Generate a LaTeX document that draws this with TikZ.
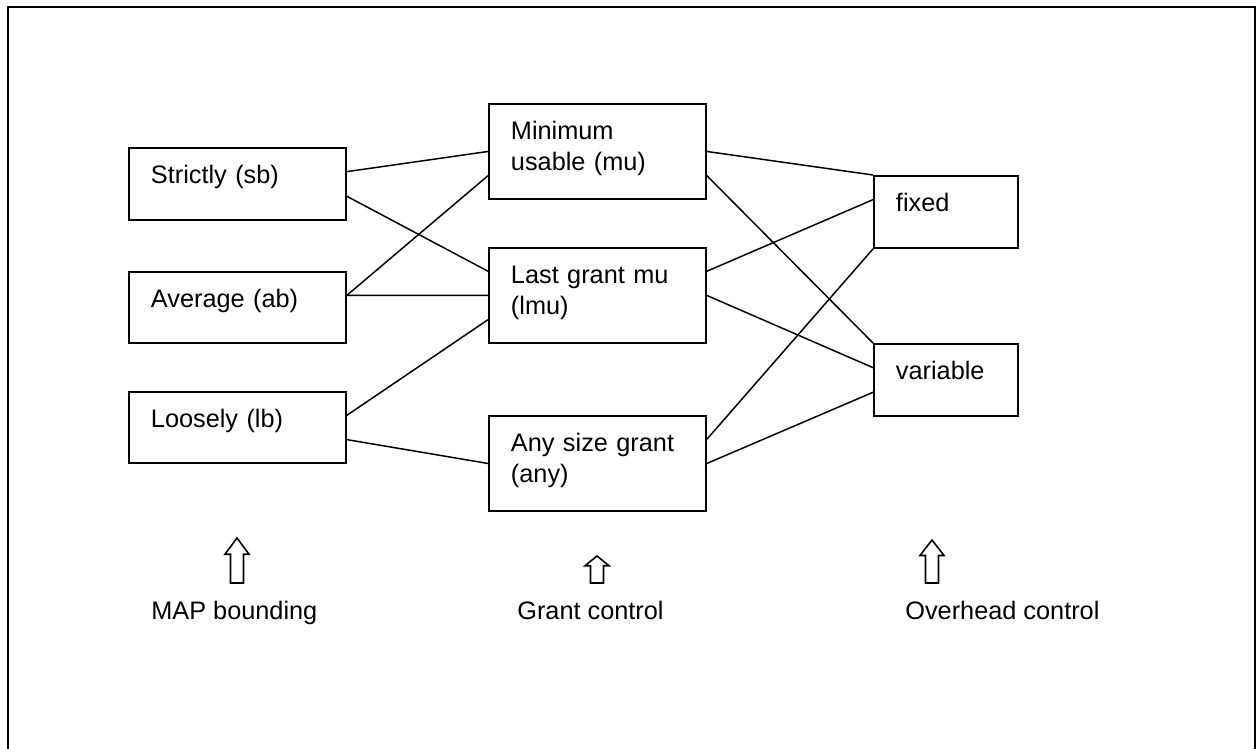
\documentclass[tikz,border=0pt]{standalone}
\usepackage{fontspec}
\setmainfont{Liberation Sans}
\usetikzlibrary{calc}
\tikzset{
  box/.style={draw, line width=1.1pt, anchor=north west, inner xsep=0.44cm, inner ysep=0pt, align=left, text height=0.72cm},
  wide/.style={box, text width=3.46cm},
  narrow/.style={box, text width=2cm},
  link/.style={line width=0.85pt},
  caption/.style={anchor=base west, inner sep=0pt},
  hollow/.pic={\draw[line width=0.9pt] (-6.5,0) -- (-6.5,-0.64*#1) -- (-12,-0.64*#1) -- (0,-#1) -- (12,-0.64*#1) -- (6.5,-0.64*#1) -- (6.5,0) -- cycle;}
}

\begin{document}
\begin{tikzpicture}[x=0.02cm, y=-0.02cm, font=\fontsize{14.4}{17.6}\selectfont]
\useasboundingbox (0,0) rectangle (1256,748);

% Outer frame
\draw[line width=1.2pt] (8,7) rectangle (1255,800);

% MAP bounding
\node[wide, text depth=0.72cm] (sb) at (128,147) {Strictly (sb)};
\node[wide, text depth=0.70cm] (ab) at (128,271) {Average (ab)};
\node[wide, text depth=0.70cm] (lb) at (128,391) {Loosely (lb)};

% Grant control
\node[wide, text depth=1.18cm] (mu) at (488,103) {Minimum\\usable (mu)};
\node[wide, text depth=1.18cm] (lmu) at (488,247) {Last grant mu\\(lmu)};
\node[wide, text depth=1.18cm] (any) at (488,415) {Any size grant\\(any)};

% Overhead control
\node[narrow, text depth=0.72cm] (fixed) at (873,175) {fixed};
\node[narrow, text depth=0.72cm] (variable) at (873,343) {variable};

% Links left -> middle
\draw[link] ($(sb.north east)!1/3!(sb.south east)$) -- (mu.west);
\draw[link] ($(sb.north east)!2/3!(sb.south east)$) -- ($(lmu.north west)!.25!(lmu.south west)$);
\draw[link] ($(ab.north east)!1/3!(ab.south east)$) -- ($(mu.north west)!.75!(mu.south west)$);
\draw[link] ($(ab.north east)!1/3!(ab.south east)$) -- (lmu.west);
\draw[link] ($(lb.north east)!1/3!(lb.south east)$) -- ($(lmu.north west)!.75!(lmu.south west)$);
\draw[link] ($(lb.north east)!2/3!(lb.south east)$) -- (any.west);

% Links middle -> right
\draw[link] (mu.east) -- (fixed.north west);
\draw[link] ($(mu.north east)!.75!(mu.south east)$) -- (variable.north west);
\draw[link] ($(lmu.north east)!.25!(lmu.south east)$) -- ($(fixed.north west)!1/3!(fixed.south west)$);
\draw[link] (lmu.east) -- ($(variable.north west)!1/3!(variable.south west)$);
\draw[link] ($(any.north east)!.25!(any.south east)$) -- (fixed.south west);
\draw[link] (any.east) -- ($(variable.north west)!2/3!(variable.south west)$);

% Hollow arrows
\pic at (237,583) {hollow=45};
\pic at (597,583) {hollow=27};
\pic at (932,583) {hollow=43};

% Captions
\node[caption] (mapcap) at (151,619) {MAP bounding};
\node[caption] (grantcap) at (517,619) {Grant control};
\node[caption] (overcap) at (905,619) {Overhead control};
\end{tikzpicture}
\end{document}
